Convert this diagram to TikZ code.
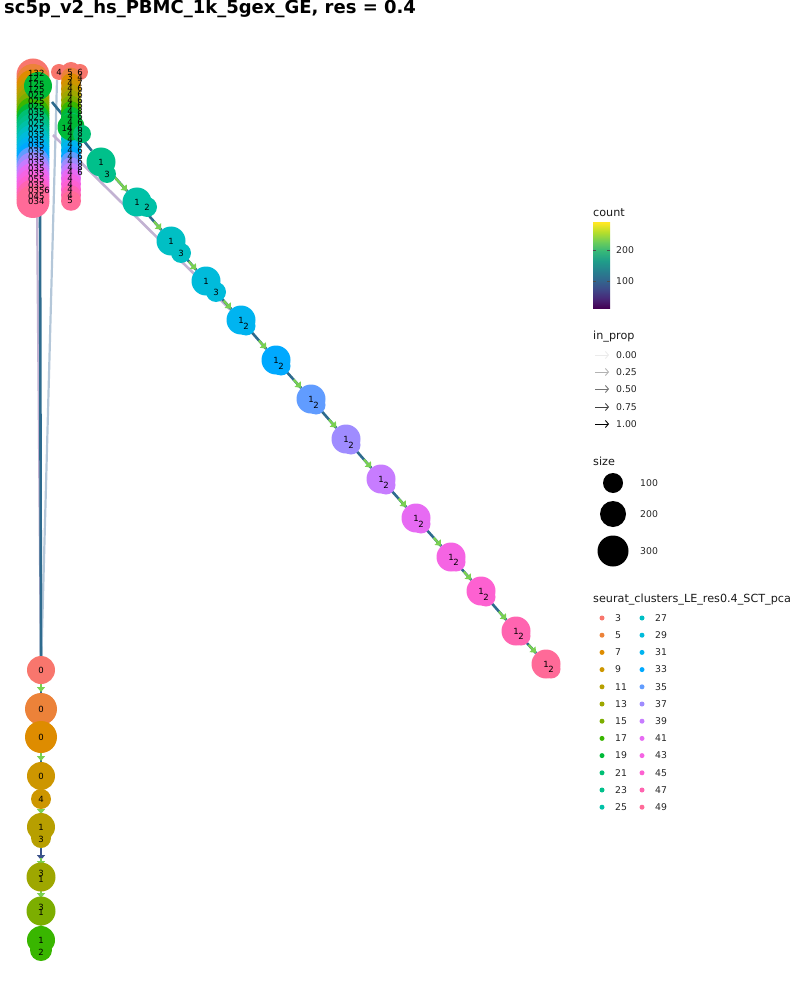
\documentclass[tikz,border=0pt]{standalone}
\usepackage{fontspec}
\setmainfont{DejaVu Sans}
\usetikzlibrary{calc,arrows.meta}
\pgfdeclarelayer{bg}\pgfdeclarelayer{fg}\pgfsetlayers{bg,main,fg}
\definecolor{k3}{HTML}{F8766D}\definecolor{k5}{HTML}{EC8239}\definecolor{k7}{HTML}{DE8C00}
\definecolor{k9}{HTML}{CD9600}\definecolor{k11}{HTML}{B79F00}\definecolor{k13}{HTML}{9EA700}
\definecolor{k15}{HTML}{7CAE00}\definecolor{k17}{HTML}{39B600}\definecolor{k19}{HTML}{00BA38}
\definecolor{k21}{HTML}{00BF74}\definecolor{k23}{HTML}{00C08B}\definecolor{k25}{HTML}{00C1A7}
\definecolor{k27}{HTML}{00BFC4}\definecolor{k29}{HTML}{00BBDB}\definecolor{k31}{HTML}{00B4F0}
\definecolor{k33}{HTML}{00A9FF}\definecolor{k35}{HTML}{619CFF}\definecolor{k37}{HTML}{9F8CFF}
\definecolor{k39}{HTML}{C77CFF}\definecolor{k41}{HTML}{E76BF3}\definecolor{k43}{HTML}{F564E3}
\definecolor{k45}{HTML}{FD61D1}\definecolor{k47}{HTML}{FF64B0}\definecolor{k49}{HTML}{FF6A98}
\definecolor{edgec}{HTML}{2E6B8E}\definecolor{grn}{HTML}{7AD151}\definecolor{bpur}{HTML}{3B528B}
\definecolor{lpurp}{HTML}{C2B2D2}\definecolor{ltblue}{HTML}{B4C7D9}
\definecolor{v0}{HTML}{440154}\definecolor{v1}{HTML}{482878}\definecolor{v2}{HTML}{3E4A89}
\definecolor{v3}{HTML}{31688E}\definecolor{v4}{HTML}{26828E}\definecolor{v5}{HTML}{1F9E89}
\definecolor{v6}{HTML}{35B779}\definecolor{v7}{HTML}{6DCD59}\definecolor{v8}{HTML}{B4DE2C}
\definecolor{v9}{HTML}{FDE725}
\pgfdeclareverticalshading{viridis}{100bp}{color(0bp)=(v0); color(25bp)=(v0); color(30.56bp)=(v1); color(36.11bp)=(v2); color(41.67bp)=(v3); color(47.22bp)=(v4); color(52.78bp)=(v5); color(58.33bp)=(v6); color(63.89bp)=(v7); color(69.44bp)=(v8); color(75bp)=(v9); color(100bp)=(v9)}
\begin{document}
\begin{tikzpicture}[x=1pt,y=-1pt,
  blob/.style={circle,inner sep=0pt,minimum size=#1},
  lab/.style={font=\fontsize{8.5}{8.5}\selectfont,inner sep=0pt,text=black},
  edge/.style={draw=edgec,line width=2.6pt},
  garr/.style={draw=grn,line width=2.2pt,-{Triangle[length=5pt,width=8pt]}},
  legt/.style={font=\fontsize{11.2}{13}\selectfont,anchor=west,inner sep=0pt,text=black!90},
  legl/.style={font=\fontsize{9.3}{11}\selectfont,anchor=west,inner sep=0pt,text=black!85}]
\useasboundingbox (0,0) rectangle (800,1000);
\node[anchor=west,inner sep=0pt,font=\fontsize{18}{20}\selectfont\bfseries] (title) at (4,9) {sc5p\_v2\_hs\_PBMC\_1k\_5gex\_GE, res = 0.4};

% ---------- top cluster, column A ----------
\foreach \c [count=\i from 0] in {k3,k5,k7,k9,k11,k13,k15,k17,k19,k21,k23,k25,k27,k29,k31,k33,k35,k37,k39,k41,k43,k45,k47,k49}{
  \node[blob=33pt,fill=\c] (a\i) at (33,{75+5.5*\i}) {};
}
\node[blob=28pt,fill=k19] (ag) at (38,86) {};
% ---------- top cluster, column B ----------
\node[blob=16pt,fill=k3] (bx4) at (59,72) {};
\node[blob=16pt,fill=k3] (bx6) at (80,72) {};
\foreach \c [count=\i from 0] in {k3,k5,k7,k9,k11,k13,k15,k17,k19,k21,k23,k25,k27,k29,k31,k33,k35,k37,k39,k41,k43,k45,k47,k49}{
  \node[blob=20pt,fill=\c] (bb\i) at (71,{72+5.6*\i}) {};
}
\node[blob=27pt,fill=k19] (bg1) at (71,127) {};
\node[blob=18pt,fill=k21] (bg2) at (82,134) {};

% labels of the top cluster
\begin{pgfonlayer}{fg}
\foreach \t [count=\i from 0] in {132,12,125,125,025,025,025,035,025,025,025,035,035,035,035,035,035,035,035,055,035,0356,045,034}{
  \node[lab,anchor=west] (al\i) at (28,{73+5.6*\i}) {\t};
}
\node[lab] (bl4) at (59,72) {4};
\foreach \p/\q [count=\i from 0] in {5/6,3/4,4/7,4/6,4/6,4/6,4/6,4/8,4/6,4/6,4/6,4/8,4/6,4/6,4/6,4/6,4/6,4/8,4/6,4/,4/,4/,4/,5/}{
  \node[lab] (blp\i) at (70,{72+5.6*\i}) {\p};
  \node[lab] (blq\i) at (80,{72+5.6*\i}) {\q};
}
\node[lab] (bg1l) at (67,128) {14};
\end{pgfonlayer}

% ---------- diagonal chain ----------
\foreach \n/\x/\y/\c/\s/\dx/\dy/\r in {1/101/162/k23/3/6/12/18pt,2/137/202/k25/2/10/5/20pt,3/171/241/k27/3/10/12/20pt,4/206/281/k29/3/10/11/20pt,5/241/320/k31/2/5/6/19pt,6/276/360/k33/2/5/6/19pt,7/311/399/k35/2/5/6/19pt,8/346/439/k37/2/5/6/19pt,9/381/479/k39/2/5/6/19pt,10/416/518/k41/2/5/6/19pt,11/451/557/k43/2/5/5/19pt,12/481/591/k45/2/5/6/19pt,13/516/631/k47/2/5/5/19pt,14/546/664/k49/2/5/5/19pt}{
  \node[blob=29pt,fill=\c] (d\n) at (\x,\y) {};
  \node[blob=\r,fill=\c] (d\n b) at ($(d\n)+(\dx,\dy)$) {};
  \begin{pgfonlayer}{fg}
    \node[lab] (d\n l) at (\x,\y) {1};
    \node[lab] (d\n m) at ($(d\n)+(\dx,\dy)$) {\s};
  \end{pgfonlayer}
}

% ---------- vertical chain ----------
\node[blob=28pt,fill=k3] (b1) at (41,670) {};
\node[blob=32pt,fill=k5] (b2) at (41,709) {};
\node[blob=32pt,fill=k7] (b3) at (41,737) {};
\node[blob=28pt,fill=k9] (b4) at (41,776) {};
\node[blob=20pt,fill=k9] (b5) at (41,799) {};
\node[blob=28pt,fill=k11] (b6) at (41,827) {};
\node[blob=20pt,fill=k11] (b6b) at (41,838) {};
\node[blob=29pt,fill=k13] (b7) at (41,877) {};
\node[blob=29pt,fill=k15] (b8) at (41,911) {};
\node[blob=28pt,fill=k17] (b9) at (41,940) {};
\node[blob=22pt,fill=k17] (b9b) at (41,950) {};
\begin{pgfonlayer}{fg}
\node[lab] (b1l) at (41,670) {0};
\node[lab] (b2l) at (41,709) {0};
\node[lab] (b3l) at (41,737) {0};
\node[lab] (b4l) at (41,776) {0};
\node[lab] (b5l) at (41,799) {4};
\node[lab] (b6l) at (41,827) {1};
\node[lab] (b6m) at (41,839) {3};
\node[lab] (b7m) at (41,873) {3};
\node[lab] (b7l) at (41,879) {1};
\node[lab] (b8m) at (41,907) {3};
\node[lab] (b8l) at (41,912) {1};
\node[lab] (b9l) at (41,940) {1};
\node[lab] (b9m) at (41,952) {2};
\end{pgfonlayer}

% ---------- connectors ----------
\coordinate (cA) at (57,80);
\coordinate (cB) at (37,205);
\coordinate (cC) at (40,205);
\coordinate (cD) at (53,135);
\coordinate (cE) at (52,102);
\begin{pgfonlayer}{bg}
\draw[draw=ltblue,line width=2.2pt] (cA) -- (b1);
\draw[draw=lpurp,line width=2.2pt] (cB) -- (b1);
\draw[edge] (cC) -- (b1);
\draw[draw=lpurp,line width=2.6pt] (cD) -- (d5);
\draw[edge] (cE) -- (d1);
\foreach \a/\b in {1/2,2/3,3/4,4/5,5/6,6/7,7/8,8/9,9/10,10/11,11/12,12/13,13/14}{
  \draw[edge] (d\a) -- (d\b);
  \draw[garr] ($(d\b)!26pt!(d\a)$) -- ($(d\b)!15pt!(d\a)$);
}
\draw[draw=grn,line width=2.2pt] (d1) -- ($(d2)!26pt!(d1)$);
\foreach \a/\b in {1/2,2/3,3/4,4/5,5/6,6/7,7/8,8/9}{
  \draw[edge] (b\a) -- (b\b);
}
\draw[garr] (41,681) -- (41,692);
\draw[garr] (41,750) -- (41,761);
\draw[garr] (41,786) -- (41,790);
\draw[garr] (41,808) -- (41,814);
\draw[draw=bpur,line width=2.2pt,-{Triangle[length=5pt,width=8pt]}] (41,849) -- (41,860);
\draw[garr] (41,858) -- (41,866);
\draw[garr] (41,890) -- (41,898);
\draw[garr] (41,921) -- (41,927);
\end{pgfonlayer}

% ---------- legend: count ----------
\node[legt] (lcount) at (593,213) {count};
\shade[shading=viridis] (593,223) rectangle (610,308);
\draw[black!70,line width=0.6pt] (593,250) -- (596,250) (607,250) -- (610,250) (593,281) -- (596,281) (607,281) -- (610,281);
\node[legl] (l200) at (616,250) {200};
\node[legl] (l100) at (616,281) {100};
% ---------- legend: in_prop ----------
\node[legt] (lprop) at (593,337) {in\_prop};
\foreach \v/\g/\y in {0.00/8/355,0.25/30/372,0.50/55/389,0.75/75/407,1.00/100/424}{
  \coordinate (pa\y) at (595,\y);
  \coordinate (pb\y) at (609,\y);
  \draw[draw=black!\g,line width=0.9pt,-{Straight Barb[length=3pt,width=7pt]}] (pa\y) -- (pb\y);
  \node[legl] (lp\y) at (616,\y) {\v};
}
% ---------- legend: size ----------
\node[legt] (lsize) at (593,461) {size};
\node[blob=20pt,fill=black] (s1) at (613,483) {};
\node[blob=26pt,fill=black] (s2) at (613,514) {};
\node[blob=31pt,fill=black] (s3) at (613,551) {};
\node[legl] (ls1) at (640,483) {100};
\node[legl] (ls2) at (640,514) {200};
\node[legl] (ls3) at (640,551) {300};
% ---------- legend: clusters ----------
\node[legt] (lclu) at (593,600) {seurat\_clusters\_LE\_res0.4\_SCT\_pca};
\foreach \t/\c [count=\i from 0] in {3/k3,5/k5,7/k7,9/k9,11/k11,13/k13,15/k15,17/k17,19/k19,21/k21,23/k23,25/k25}{
  \node[blob=5pt,fill=\c] (ka\i) at (602,{618+17.2*\i}) {};
  \node[legl] (kal\i) at (615,{618+17.2*\i}) {\t};
}
\foreach \t/\c [count=\i from 0] in {27/k27,29/k29,31/k31,33/k33,35/k35,37/k37,39/k39,41/k41,43/k43,45/k45,47/k47,49/k49}{
  \node[blob=5pt,fill=\c] (kb\i) at (642,{618+17.2*\i}) {};
  \node[legl] (kbl\i) at (655,{618+17.2*\i}) {\t};
}
\end{tikzpicture}
\end{document}
